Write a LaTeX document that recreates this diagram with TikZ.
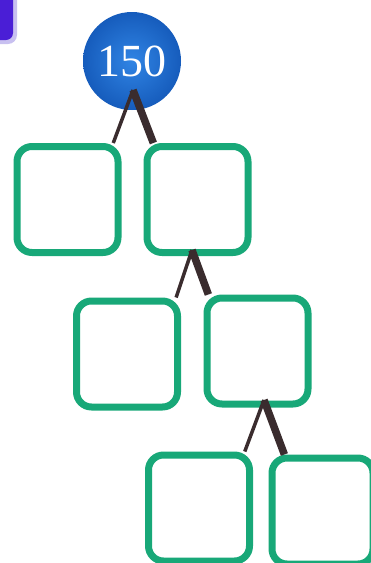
\documentclass[tikz,border=0pt]{standalone}
\usepackage{tikz}
\usepackage{fontspec}
\usepackage{xcolor}
\setmainfont{Liberation Serif}

\definecolor{boxgreen}{RGB}{24,168,120}
\definecolor{legdark}{RGB}{58,44,46}
\definecolor{btnpurple}{RGB}{74,30,214}
\definecolor{btnrim}{RGB}{200,192,240}

\begin{document}
\begin{tikzpicture}[x=1pt,y=-1pt,
    box/.style={draw=boxgreen,line width=7pt,fill=white,rounded corners=15pt,
                minimum width=101pt,minimum height=106pt},
    thin leg/.style={draw=legdark,line width=3.5pt},
    thick leg/.style={draw=legdark,line width=7.5pt}]
    \useasboundingbox (0,0) rectangle (371,563);

    % Corner of a purple button, cut off by the frame:
    \fill [btnrim, rounded corners=9pt] (-20,-20) rectangle (17,44);
    \fill [btnpurple, rounded corners=7pt] (-20,-20) rectangle (13,40);

    % The number to split:
    \node [circle, minimum size=98pt, inner sep=0pt,
           inner color={rgb,255:red,48;green,132;blue,228},
           outer color={rgb,255:red,22;green,92;blue,188},
           text=white, font=\fontsize{46}{46}\selectfont] (n150) at (132,61) {150};

    % Empty boxes, row by row:
    \node [box] (a) at (67.5,199.5) {};
    \node [box] (b) at (197.5,199.5) {};
    \node [box] (c) at (127,354) {};
    \node [box] (d) at (257.5,351) {};
    \node [box] (e) at (199,508) {};
    \node [box] (f) at (322.5,511) {};

    % Branches: a thin left leg and a thick right leg
    \coordinate (t1) at (133,90);
    \coordinate (t2) at (192,250);
    \coordinate (t3) at (264,400);
    \draw [thin leg]  (t1) -- (a.51);
    \draw [thick leg] (t1) -- (b.128);
    \draw [thin leg]  (t2) -- (c.49);
    \draw [thick leg] (t2) -- (d.131);
    \draw [thin leg]  (t3) -- (e.51);
    \draw [thick leg] (t3) -- (f.124);
\end{tikzpicture}
\end{document}
